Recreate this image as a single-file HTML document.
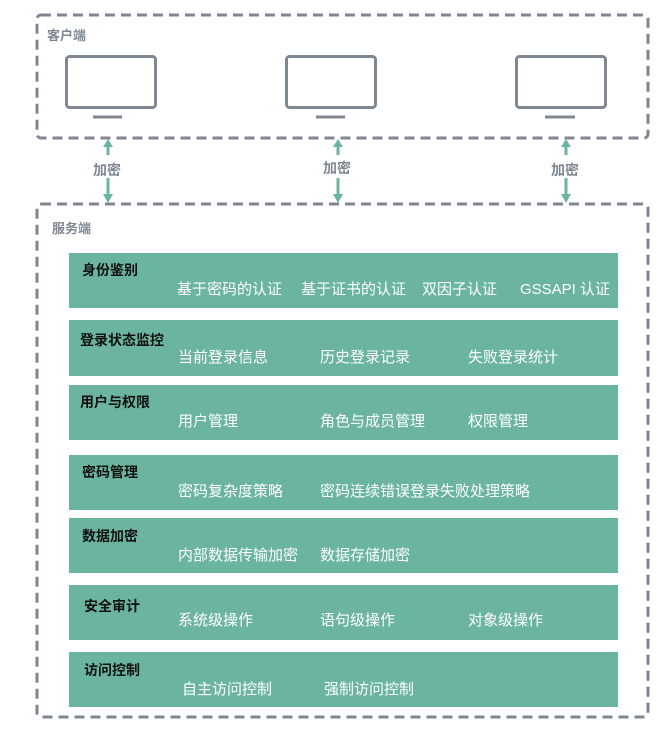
<!DOCTYPE html>
<html><head><meta charset="utf-8"><style>
body{margin:0;width:669px;height:736px;background:#fff;position:relative;overflow:hidden;font-family:"Liberation Sans","Noto Sans CJK SC",sans-serif}
.a{position:absolute}
.bar{position:absolute;left:69px;width:549px;background:#6bb5a0}
.t{position:absolute;font-size:14px;font-weight:bold;color:#111;white-space:nowrap}
.s{position:absolute;font-size:15px;color:#fff;white-space:nowrap}
.g{position:absolute;font-size:14px;color:#7f8792;font-weight:bold;white-space:nowrap}
</style></head><body>
<svg class="a" style="left:0;top:0" width="669" height="736">
<rect x="37" y="15" width="611" height="123" rx="4" fill="none" stroke="#7f8792" stroke-width="3" stroke-dasharray="10,6"/>
<rect x="37" y="204" width="611" height="513" rx="4" fill="none" stroke="#7f8792" stroke-width="3" stroke-dasharray="10,6"/>
<g fill="none" stroke="#7f8792" stroke-width="3">
<rect x="66.5" y="56.5" width="89" height="51" rx="3"/>
<rect x="286.5" y="56.5" width="89" height="51" rx="3"/>
<rect x="516.5" y="56.5" width="89" height="51" rx="3"/>
<line x1="93" y1="117" x2="122" y2="117"/>
<line x1="316" y1="117" x2="345" y2="117"/>
<line x1="545" y1="117" x2="575" y2="117"/>
</g>
<g stroke="#6bb5a0" stroke-width="3" fill="#6bb5a0">
<line x1="108" y1="146" x2="108" y2="155"/><line x1="108" y1="178" x2="108" y2="196"/>
<line x1="338" y1="146" x2="338" y2="155"/><line x1="338" y1="178" x2="338" y2="196"/>
<line x1="566" y1="146" x2="566" y2="155"/><line x1="566" y1="178" x2="566" y2="196"/>
</g>
<g fill="#6bb5a0">
<polygon points="108,139 103,147 113,147"/><polygon points="108,203 103,194 113,194"/>
<polygon points="338,139 333,147 343,147"/><polygon points="338,203 333,194 343,194"/>
<polygon points="566,139 561,147 571,147"/><polygon points="566,203 561,194 571,194"/>
</g>
</svg>
<div class="g" style="left:47px;top:25px;font-size:13px">客户端</div>
<div class="g" style="left:93px;top:160px">加密</div>
<div class="g" style="left:323px;top:158px">加密</div>
<div class="g" style="left:551px;top:160px">加密</div>
<div class="g" style="left:52px;top:218px;font-size:13px">服务端</div>

<div class="bar" style="top:253px;height:55px"></div>
<div class="t" style="left:82px;top:260px">身份鉴别</div>
<div class="s" style="left:177px;top:278px">基于密码的认证</div>
<div class="s" style="left:301px;top:278px">基于证书的认证</div>
<div class="s" style="left:422px;top:278px">双因子认证</div>
<div class="s" style="left:520px;top:278px">GSSAPI 认证</div>

<div class="bar" style="top:320px;height:56px"></div>
<div class="t" style="left:80px;top:330px">登录状态监控</div>
<div class="s" style="left:178px;top:346px">当前登录信息</div>
<div class="s" style="left:320px;top:346px">历史登录记录</div>
<div class="s" style="left:468px;top:346px">失败登录统计</div>

<div class="bar" style="top:385px;height:55px"></div>
<div class="t" style="left:80px;top:392px">用户与权限</div>
<div class="s" style="left:178px;top:410px">用户管理</div>
<div class="s" style="left:320px;top:410px">角色与成员管理</div>
<div class="s" style="left:468px;top:410px">权限管理</div>

<div class="bar" style="top:455px;height:55px"></div>
<div class="t" style="left:82px;top:462px">密码管理</div>
<div class="s" style="left:178px;top:480px">密码复杂度策略</div>
<div class="s" style="left:320px;top:480px">密码连续错误登录失败处理策略</div>

<div class="bar" style="top:518px;height:55px"></div>
<div class="t" style="left:82px;top:526px">数据加密</div>
<div class="s" style="left:178px;top:544px">内部数据传输加密</div>
<div class="s" style="left:320px;top:544px">数据存储加密</div>

<div class="bar" style="top:585px;height:55px"></div>
<div class="t" style="left:84px;top:596px">安全审计</div>
<div class="s" style="left:178px;top:609px">系统级操作</div>
<div class="s" style="left:320px;top:609px">语句级操作</div>
<div class="s" style="left:468px;top:609px">对象级操作</div>

<div class="bar" style="top:652px;height:55px"></div>
<div class="t" style="left:84px;top:660px">访问控制</div>
<div class="s" style="left:182px;top:678px">自主访问控制</div>
<div class="s" style="left:324px;top:678px">强制访问控制</div>
</body></html>
